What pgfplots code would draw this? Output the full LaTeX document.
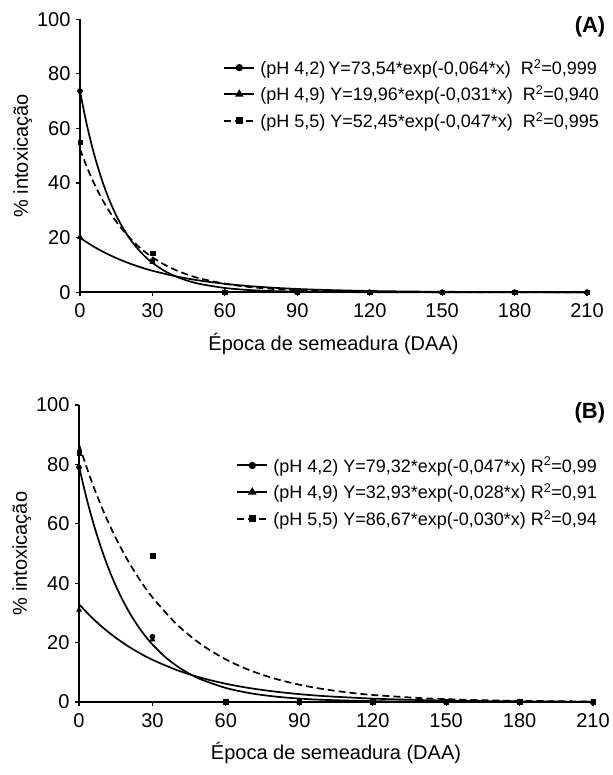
\documentclass[border=0pt]{standalone}
\usepackage{pgfplots}
\pgfplotsset{compat=1.18}
\usepackage{fontspec}
\setmainfont{Liberation Sans}
\newcommand{\tickfont}{\fontsize{20}{24}\selectfont}
\newcommand{\legfont}{\fontsize{18}{21}\selectfont}
\pgfplotsset{
  myaxis/.style={
    scale only axis,
    axis lines=left,
    axis line style={-, line width=1.6pt},
    xmin=0, xmax=210, ymin=0, ymax=100,
    xtick={0,30,60,90,120,150,180,210},
    ytick={0,20,40,60,80,100},
    tick align=outside,
    major tick length=4pt,
    tick style={line width=1.2pt, black},
    /pgf/number format/assume math mode=true,
    tick label style={font=\tickfont},
    xticklabel style={yshift=-4pt},
    yticklabel style={xshift=-2pt},
    label style={font=\tickfont},
    xlabel style={yshift=-8pt},
    ylabel style={yshift=-2pt},
    xlabel={Época de semeadura (DAA)},
    ylabel={\% intoxicação},
    clip=false,
    legend cell align=left,
    legend style={draw=none, fill=none, font=\legfont, row sep=6pt, inner sep=1pt},
    legend image code/.code={\draw[mark repeat=2,mark phase=2] plot coordinates {(0pt,0pt) (15pt,0pt) (30pt,0pt)};
      \path (33pt,0pt);},
  },
  fit/.style={black, line width=1.7pt, no marks, smooth, forget plot},
  pts/.style={only marks, black, forget plot},
  dsh/.style={dash pattern=on 7pt off 4pt},
  leg/.style={black, line width=2pt},
}
\begin{document}
\begin{tikzpicture}
\useasboundingbox (0,0) rectangle (612pt,775pt);
% ---------------- (A) ----------------
\begin{axis}[myaxis, at={(80pt,482.7pt)}, anchor=south west, width=507pt, height=273pt,
  legend style={at={(1.03,0.865)}, anchor=north east}]
\addplot[fit] coordinates {(0,73.54) (3,60.69) (6,50.09) (9,41.34) (12,34.12) (15,28.16) (18,23.24) (21,19.18) (24,15.83) (27,13.06) (30,10.78) (35,7.83) (40,5.68) (45,4.13) (50,3.00) (60,1.58) (70,0.83) (80,0.44) (90,0.23) (100,0.12) (120,0.03) (150,0.005) (180,0) (210,0)};
\addplot[fit] coordinates {(0,19.96) (5,17.09) (10,14.64) (15,12.54) (20,10.74) (25,9.20) (30,7.88) (40,5.78) (50,4.24) (60,3.11) (70,2.28) (80,1.67) (90,1.23) (100,0.90) (120,0.48) (140,0.26) (160,0.14) (180,0.075) (210,0.03)};
\addplot[fit, dsh] coordinates {(0,52.45) (3,45.55) (6,39.56) (9,34.36) (12,29.84) (15,25.92) (18,22.51) (21,19.55) (24,16.98) (27,14.74) (30,12.81) (35,10.12) (40,8.00) (45,6.33) (50,5.00) (60,3.13) (70,1.95) (80,1.22) (90,0.76) (100,0.48) (120,0.19) (140,0.07) (160,0.03) (210,0.003)};
\addplot[pts, mark=square*, mark size=2.3pt] coordinates {(0,55) (30,14.3) (60,0) (90,0) (120,0) (150,0) (180,0) (210,0)};
\addplot[pts, mark=triangle*, mark size=3pt] coordinates {(0,20.3) (30,11) (60,0) (90,0) (120,0) (150,0) (180,0) (210,0)};
\addplot[pts, mark=*, mark size=2.6pt] coordinates {(0,73.7) (30,11.5) (60,0) (90,0) (120,0) (150,0) (180,0) (210,0)};
\addlegendimage{leg, mark=*, mark size=2.6pt}
\addlegendentry{(pH 4,2)\,Y=73,54*exp(-0,064*x) \ R\textsuperscript{2}=0,999}
\addlegendimage{leg, mark=triangle*, mark size=3pt}
\addlegendentry{(pH 4,9) Y=19,96*exp(-0,031*x) \ R\textsuperscript{2}=0,940}
\addlegendimage{leg, dsh, mark=square*, mark size=2.3pt, mark options={solid}}
\addlegendentry{(pH 5,5) Y=52,45*exp(-0,047*x) \ R\textsuperscript{2}=0,995}
\node[font=\fontsize{22}{26}\selectfont\bfseries] at (rel axis cs:1.006,0.972) {(A)};
\end{axis}
% ---------------- (B) ----------------
\begin{axis}[myaxis, at={(79pt,73pt)}, anchor=south west, width=514pt, height=297pt,
  legend style={at={(1.014,0.835)}, anchor=north east}]
\addplot[fit] coordinates {(0,79.32) (3,68.89) (6,59.83) (9,51.96) (12,45.13) (15,39.19) (18,34.04) (21,29.56) (24,25.68) (27,22.30) (30,19.37) (35,15.31) (40,12.10) (45,9.57) (50,7.56) (60,4.73) (70,2.95) (80,1.85) (90,1.15) (100,0.72) (120,0.28) (140,0.11) (160,0.04) (210,0)};
\addplot[fit] coordinates {(0,32.93) (5,28.63) (10,24.89) (15,21.64) (20,18.81) (25,16.35) (30,14.22) (40,10.74) (50,8.12) (60,6.14) (70,4.64) (80,3.51) (90,2.65) (100,2.00) (120,1.14) (140,0.65) (160,0.37) (180,0.21) (210,0.09)};
\addplot[fit, dsh] coordinates {(0,86.67) (5,74.60) (10,64.21) (15,55.26) (20,47.57) (25,40.94) (30,35.24) (40,26.10) (50,19.34) (60,14.33) (70,10.61) (80,7.86) (90,5.83) (100,4.32) (110,3.20) (120,2.37) (140,1.30) (160,0.71) (180,0.39) (210,0.16)};
\addplot[pts, mark=square*, mark size=2.3pt] coordinates {(0,84) (30,49.2) (60,0) (90,0) (120,0) (150,0) (180,0) (210,0)};
\addplot[pts, mark=triangle*, mark size=3pt] coordinates {(0,31) (30,21) (60,0) (90,0) (120,0) (150,0) (180,0) (210,0)};
\addplot[pts, mark=*, mark size=2.6pt] coordinates {(0,79) (30,22) (60,0) (90,0) (120,0) (150,0) (180,0) (210,0)};
\addlegendimage{leg, mark=*, mark size=2.6pt}
\addlegendentry{(pH 4,2) Y=79,32*exp(-0,047*x) R\textsuperscript{2}=0,99}
\addlegendimage{leg, mark=triangle*, mark size=3pt}
\addlegendentry{(pH 4,9) Y=32,93*exp(-0,028*x) R\textsuperscript{2}=0,91}
\addlegendimage{leg, dsh, mark=square*, mark size=2.3pt, mark options={solid}}
\addlegendentry{(pH 5,5) Y=86,67*exp(-0,030*x) R\textsuperscript{2}=0,94}
\node[font=\fontsize{22}{26}\selectfont\bfseries] at (rel axis cs:0.994,0.973) {(B)};
\end{axis}
\end{tikzpicture}
\end{document}
